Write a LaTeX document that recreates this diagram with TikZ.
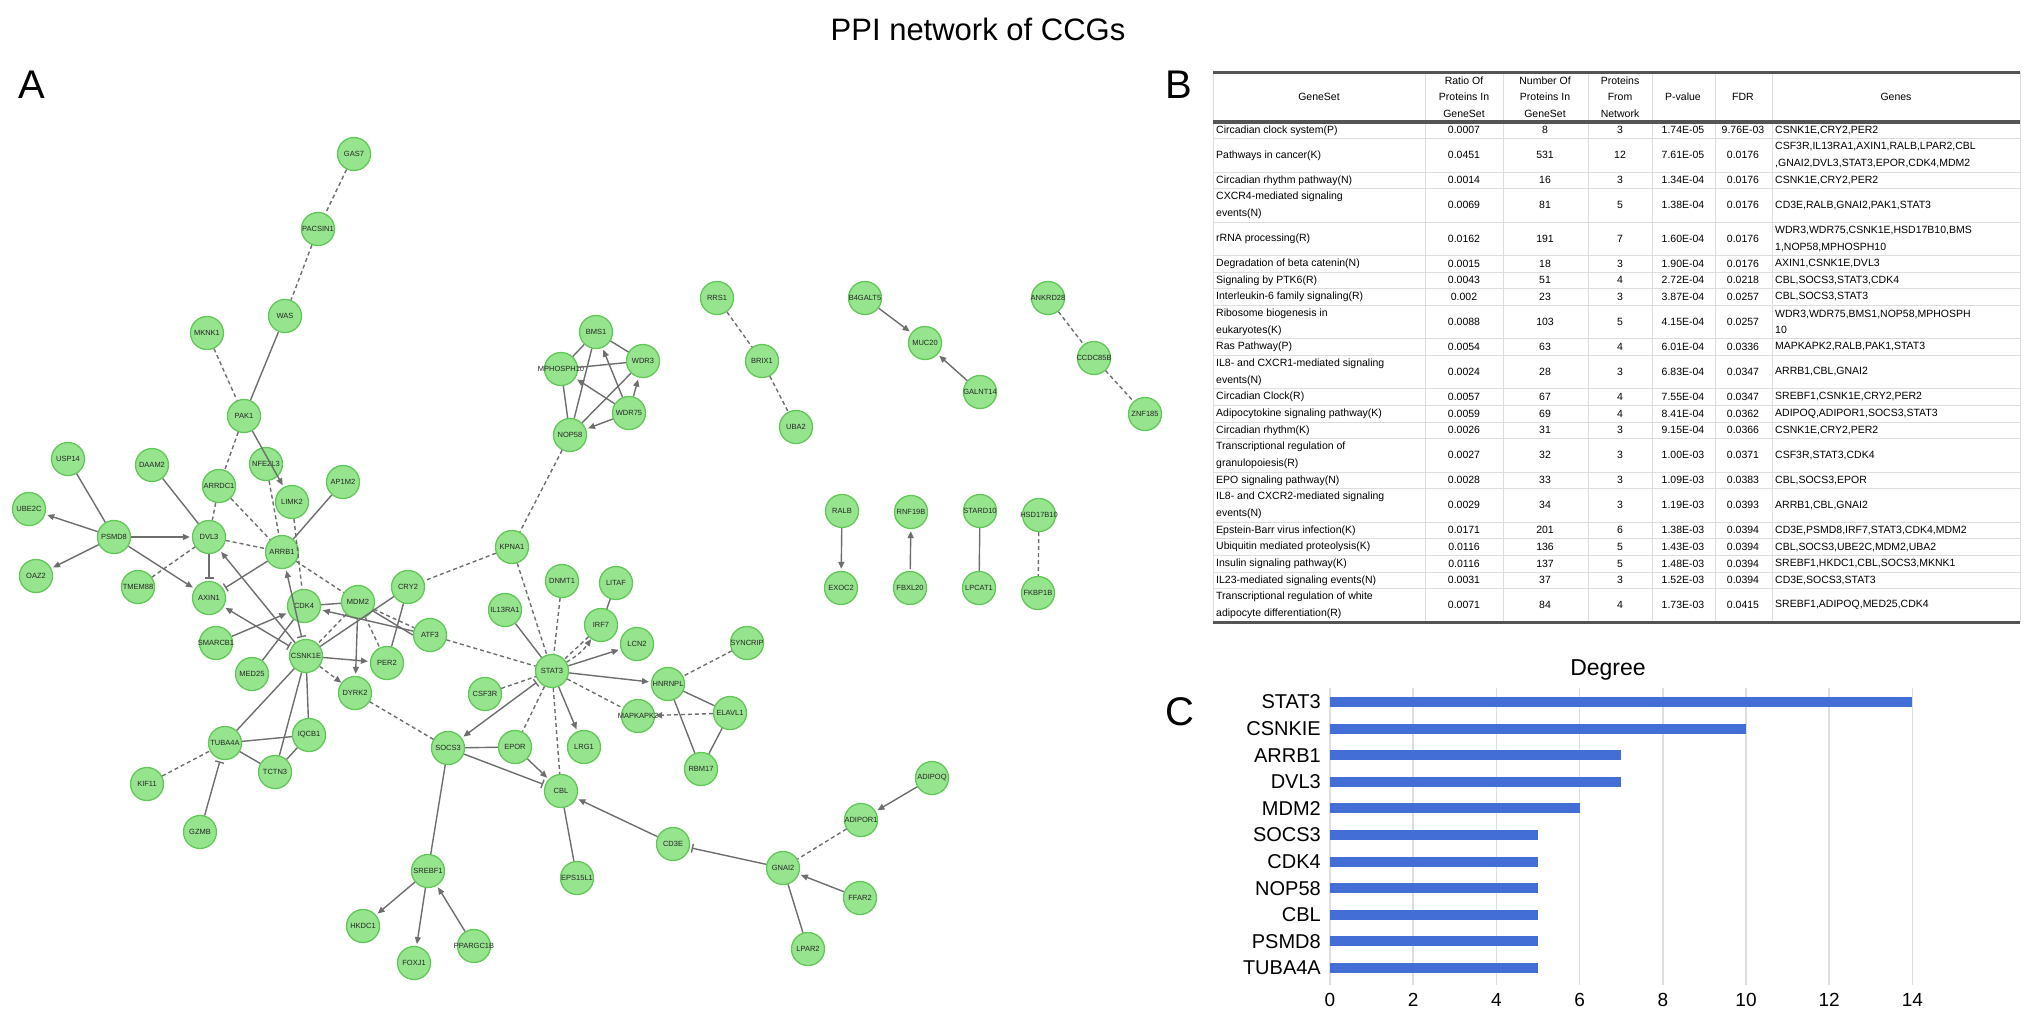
\documentclass[tikz,border=0pt]{standalone}
\usepackage{fontspec}
\setmainfont{Liberation Sans}
\usetikzlibrary{arrows.meta}

\definecolor{nodefill}{RGB}{150,228,142}
\definecolor{nodeedge}{RGB}{96,200,86}
\definecolor{edgegray}{RGB}{110,110,110}
\definecolor{barblue}{RGB}{66,110,214}
\definecolor{gridgray}{RGB}{222,222,222}
\definecolor{rulegray}{RGB}{85,85,85}

\tikzset{
  gene/.style={circle, draw=nodeedge, fill=nodefill, line width=1.3pt, minimum size=33pt,
    inner sep=0pt, label={[genelabel]center:#1}},
  genelabel/.style={font=\fontsize{7.5}{7.5}\selectfont, text=black!85, inner sep=0pt},
  link/.style={draw=edgegray, line width=1.4pt},
  pred/.style={link, dash pattern=on 4pt off 3pt},
  act/.style={link, -{Triangle[length=7pt,width=6pt]}, shorten >=2pt},
  inh/.style={link, -{Bar[width=9pt]}, shorten >=2pt},
  duo/.style={link, {Bar[width=9pt]}-{Triangle[length=7pt,width=6pt]}, shorten >=2pt, shorten <=2pt},
  panel/.style={font=\fontsize{40}{40}\selectfont},
  tabtext/.style={font=\fontsize{10.5}{16.7}\selectfont, inner sep=0pt},
  tabgrid/.style={draw=gridgray, line width=1pt},
  tabrule/.style={draw=rulegray, line width=3pt},
  barlabel/.style={font=\fontsize{20}{20}\selectfont, anchor=east, inner sep=0pt},
  ticklabel/.style={font=\fontsize{19}{19}\selectfont, inner sep=0pt},
}

\begin{document}
\begin{tikzpicture}[x=1pt, y=-1pt]
  \useasboundingbox (0,0) rectangle (2032,1017);

  % titles
  \node[font=\fontsize{31}{31}\selectfont] (title) at (978,29) {PPI network of CCGs};
  \node[panel] (pa) at (32,85) {A};
  \node[panel] (pb) at (1179,85) {B};
  \node[panel] (pc) at (1180,712) {C};

  % ---- A: network ----
  \node[gene=GAS7] (gas7) at (354,154) {};
  \node[gene=PACSIN1] (pacsin1) at (318,229) {};
  \node[gene=WAS] (was) at (285,316) {};
  \node[gene=MKNK1] (mknk1) at (207,333) {};
  \node[gene=PAK1] (pak1) at (244,416) {};
  \node[gene=USP14] (usp14) at (68,459) {};
  \node[gene=DAAM2] (daam2) at (152,465) {};
  \node[gene=NFE2L3] (nfe2l3) at (266,464) {};
  \node[gene=ARRDC1] (arrdc1) at (219,486) {};
  \node[gene=AP1M2] (ap1m2) at (343,482) {};
  \node[gene=LIMK2] (limk2) at (292,502) {};
  \node[gene=UBE2C] (ube2c) at (29,509) {};
  \node[gene=PSMD8] (psmd8) at (114,537) {};
  \node[gene=DVL3] (dvl3) at (209,537) {};
  \node[gene=ARRB1] (arrb1) at (282,552) {};
  \node[gene=OAZ2] (oaz2) at (36,576) {};
  \node[gene=TMEM88] (tmem88) at (138,587) {};
  \node[gene=AXIN1] (axin1) at (209,598) {};
  \node[gene=CDK4] (cdk4) at (304,606) {};
  \node[gene=MDM2] (mdm2) at (358,602) {};
  \node[gene=CRY2] (cry2) at (408,587) {};
  \node[gene=ATF3] (atf3) at (430,635) {};
  \node[gene=SMARCB1] (smarcb1) at (216,643) {};
  \node[gene=CSNK1E] (csnk1e) at (306,656) {};
  \node[gene=MED25] (med25) at (252,674) {};
  \node[gene=PER2] (per2) at (387,663) {};
  \node[gene=DYRK2] (dyrk2) at (355,693) {};
  \node[gene=CSF3R] (csf3r) at (485,694) {};
  \node[gene=TUBA4A] (tuba4a) at (225,743) {};
  \node[gene=IQCB1] (iqcb1) at (309,735) {};
  \node[gene=SOCS3] (socs3) at (448,748) {};
  \node[gene=TCTN3] (tctn3) at (275,772) {};
  \node[gene=KIF11] (kif11) at (147,784) {};
  \node[gene=GZMB] (gzmb) at (200,832) {};
  \node[gene=SREBF1] (srebf1) at (428,871) {};
  \node[gene=HKDC1] (hkdc1) at (363,926) {};
  \node[gene=FOXJ1] (foxj1) at (414,963) {};
  \node[gene=PPARGC1B] (ppargc1b) at (474,946) {};

  \node[gene=BMS1] (bms1) at (596,332) {};
  \node[gene=MPHOSPH10] (mphosph10) at (561,369) {};
  \node[gene=WDR3] (wdr3) at (643,361) {};
  \node[gene=WDR75] (wdr75) at (629,413) {};
  \node[gene=NOP58] (nop58) at (570,435) {};

  \node[gene=KPNA1] (kpna1) at (512,547) {};
  \node[gene=DNMT1] (dnmt1) at (562,581) {};
  \node[gene=LITAF] (litaf) at (616,583) {};
  \node[gene=IL13RA1] (il13ra1) at (505,610) {};
  \node[gene=IRF7] (irf7) at (601,625) {};
  \node[gene=LCN2] (lcn2) at (637,644) {};
  \node[gene=SYNCRIP] (syncrip) at (747,643) {};
  \node[gene=STAT3] (stat3) at (552,671) {};
  \node[gene=HNRNPL] (hnrnpl) at (668,684) {};
  \node[gene=MAPKAPK2] (mapkapk2) at (638,716) {};
  \node[gene=ELAVL1] (elavl1) at (730,713) {};
  \node[gene=EPOR] (epor) at (515,747) {};
  \node[gene=LRG1] (lrg1) at (584,747) {};
  \node[gene=RBM17] (rbm17) at (701,769) {};
  \node[gene=CBL] (cbl) at (561,791) {};
  \node[gene=EPS15L1] (eps15l1) at (577,878) {};
  \node[gene=CD3E] (cd3e) at (673,844) {};
  \node[gene=GNAI2] (gnai2) at (783,868) {};
  \node[gene=ADIPOR1] (adipor1) at (861,820) {};
  \node[gene=ADIPOQ] (adipoq) at (932,778) {};
  \node[gene=FFAR2] (ffar2) at (860,898) {};
  \node[gene=LPAR2] (lpar2) at (808,949) {};

  \node[gene=RRS1] (rrs1) at (717,298) {};
  \node[gene=BRIX1] (brix1) at (762,361) {};
  \node[gene=UBA2] (uba2) at (796,427) {};
  \node[gene=B4GALT5] (b4galt5) at (865,298) {};
  \node[gene=MUC20] (muc20) at (925,343) {};
  \node[gene=GALNT14] (galnt14) at (980,392) {};
  \node[gene=ANKRD28] (ankrd28) at (1048,298) {};
  \node[gene=CCDC85B] (ccdc85b) at (1094,358) {};
  \node[gene=ZNF185] (znf185) at (1145,414) {};
  \node[gene=RALB] (ralb) at (842,511) {};
  \node[gene=EXOC2] (exoc2) at (841,588) {};
  \node[gene=RNF19B] (rnf19b) at (911,512) {};
  \node[gene=FBXL20] (fbxl20) at (910,588) {};
  \node[gene=STARD10] (stard10) at (980,511) {};
  \node[gene=LPCAT1] (lpcat1) at (979,588) {};
  \node[gene=HSD17B10] (hsd17b10) at (1039,515) {};
  \node[gene=FKBP1B] (fkbp1b) at (1038,593) {};

  % edges
  \draw[pred] (gas7) -- (pacsin1);
  \draw[pred] (pacsin1) -- (was);
  \draw[link] (was) -- (pak1);
  \draw[pred] (mknk1) -- (pak1);
  \draw[pred] (pak1) -- (arrdc1);
  \draw[pred] (arrdc1) -- (dvl3);
  \draw[act] (pak1) -- (limk2);
  \draw[pred] (nfe2l3) -- (arrb1);
  \draw[pred] (limk2) -- (cdk4);
  \draw[link] (ap1m2) -- (arrb1);
  \draw[pred] (arrdc1) -- (arrb1);
  \draw[link] (daam2) -- (dvl3);
  \draw[link] (usp14) -- (psmd8);
  \draw[act] (psmd8) -- (ube2c);
  \draw[act] (psmd8) -- (oaz2);
  \draw[act] (psmd8) -- (dvl3);
  \draw[act] (psmd8) -- (axin1);
  \draw[pred] (tmem88) -- (dvl3);
  \draw[inh] (dvl3) -- (axin1);
  \draw[pred] (dvl3) -- (arrb1);
  \draw[inh] (arrb1) -- (axin1);
  \draw[act] (csnk1e) -- (dvl3);
  \draw[duo] (csnk1e) -- (axin1);
  \draw[duo] (csnk1e) -- (arrb1);
  \draw[pred] (arrb1) -- (mdm2);
  \draw[pred] (mdm2) -- (atf3);
  \draw[act] (smarcb1) -- (cdk4);
  \draw[link] (med25) -- (cdk4);
  \draw[link] (cdk4) -- (mdm2);
  \draw[act] (atf3) -- (cdk4);
  \draw[link] (mdm2) -- (atf3.west);
  \draw[link] (cry2) -- (csnk1e);
  \draw[link] (cry2) -- (per2);
  \draw[act] (mdm2) -- (dyrk2);
  \draw[pred] (mdm2) -- (per2);
  \draw[pred] (mdm2) -- (csnk1e);
  \draw[act] (csnk1e) -- (per2);
  \draw[pred, -{Triangle[length=7pt,width=6pt]}] (csnk1e) -- (dyrk2);
  \draw[pred] (dyrk2) -- (socs3);
  \draw[link] (csnk1e) -- (tuba4a);
  \draw[link] (csnk1e) -- (iqcb1);
  \draw[link] (csnk1e) -- (tctn3);
  \draw[link] (tuba4a) -- (iqcb1);
  \draw[link] (tuba4a) -- (tctn3);
  \draw[link] (tctn3) -- (iqcb1);
  \draw[pred] (kif11) -- (tuba4a);
  \draw[inh] (gzmb) -- (tuba4a);

  \draw[link] (bms1) -- (mphosph10);
  \draw[link] (bms1) -- (wdr3);
  \draw[link] (bms1) -- (nop58);
  \draw[link] (mphosph10) -- (wdr3);
  \draw[link] (mphosph10) -- (nop58);
  \draw[link] (wdr3) -- (nop58);
  \draw[act] (wdr75) -- (nop58);
  \draw[act] (wdr75) -- (wdr3);
  \draw[act] (wdr75) -- (bms1);
  \draw[act] (wdr75) -- (mphosph10);

  \draw[pred] (nop58) -- (kpna1);
  \draw[pred] (kpna1) -- (cry2);
  \draw[pred] (kpna1) -- (stat3);
  \draw[pred] (dnmt1) -- (stat3);
  \draw[link] (litaf) -- (irf7);
  \draw[pred] (irf7) -- (stat3);
  \draw[pred, -{Triangle[length=7pt,width=6pt]}] (stat3) to[bend right=12] (irf7);
  \draw[link] (il13ra1) -- (stat3);
  \draw[pred] (atf3) -- (stat3);
  \draw[act] (stat3) -- (lcn2);
  \draw[act] (stat3) -- (hnrnpl);
  \draw[pred] (stat3) -- (mapkapk2);
  \draw[act] (stat3) -- (lrg1);
  \draw[pred] (stat3) -- (cbl);
  \draw[pred] (stat3) -- (epor);
  \draw[pred] (csf3r) -- (stat3);
  \draw[duo] (stat3) -- (socs3);
  \draw[pred] (syncrip) -- (hnrnpl);
  \draw[link] (hnrnpl) -- (elavl1);
  \draw[link] (hnrnpl) -- (rbm17);
  \draw[link] (elavl1) -- (rbm17);
  \draw[pred, -{Triangle[length=7pt,width=6pt]}] (elavl1) -- (mapkapk2);
  \draw[link] (socs3) -- (epor);
  \draw[inh] (socs3) -- (cbl);
  \draw[act] (epor) -- (cbl);
  \draw[link] (socs3) -- (srebf1);
  \draw[link] (cbl) -- (eps15l1);
  \draw[act] (cd3e) -- (cbl);
  \draw[inh] (gnai2) -- (cd3e);
  \draw[pred] (adipor1) -- (gnai2);
  \draw[act] (adipoq) -- (adipor1);
  \draw[act] (ffar2) -- (gnai2);
  \draw[link] (gnai2) -- (lpar2);
  \draw[act] (srebf1) -- (hkdc1);
  \draw[act] (srebf1) -- (foxj1);
  \draw[act] (ppargc1b) -- (srebf1);

  \draw[pred] (rrs1) -- (brix1);
  \draw[pred] (brix1) -- (uba2);
  \draw[act] (b4galt5) -- (muc20);
  \draw[act] (galnt14) -- (muc20);
  \draw[pred] (ankrd28) -- (ccdc85b);
  \draw[pred] (ccdc85b) -- (znf185);
  \draw[act] (ralb) -- (exoc2);
  \draw[act, {Triangle[length=7pt,width=6pt]}-, shorten <=2pt] (rnf19b) -- (fbxl20);
  \draw[link] (stard10) -- (lpcat1);
  \draw[pred] (hsd17b10) -- (fkbp1b);

  % ---- B: table ----
  \foreach \cx in {1213,1425,1503,1588,1652,1715,1772,2020}
    \draw[tabgrid] (\cx,72) -- (\cx,622);
  \foreach \ry in {138.7,172,188.7,222,255.3,272,288.7,305.3,338.7,355.3,388.7,405.3,422,438.7,472,488.7,522,538.7,555.3,572,588.7}
    \draw[tabgrid] (1213,\ry) -- (2020,\ry);
  \draw[tabrule] (1213,72) -- (2020,72);
  \draw[tabrule, line width=4pt] (1213,122) -- (2020,122);
  \draw[tabrule] (1213,622) -- (2020,622);

  \node[tabtext] (h1) at (1319,97) {GeneSet};
  \node[tabtext, align=center] (h2) at (1464,97) {Ratio Of\\Proteins In\\GeneSet};
  \node[tabtext, align=center] (h3) at (1545,97) {Number Of\\Proteins In\\GeneSet};
  \node[tabtext, align=center] (h4) at (1620,97) {Proteins\\From\\Network};
  \node[tabtext] (h5) at (1683,97) {P-value};
  \node[tabtext] (h6) at (1743,97) {FDR};
  \node[tabtext] (h7) at (1896,97) {Genes};

  \foreach \ry/\gs/\ra/\nu/\pr/\pv/\fdr/\gn [count=\i] in {
    130.3/{Circadian clock system(P)}/0.0007/8/3/1.74E-05/9.76E-03/{CSNK1E,CRY2,PER2},
    155.3/{Pathways in cancer(K)}/0.0451/531/12/7.61E-05/0.0176/{CSF3R,IL13RA1,AXIN1,RALB,LPAR2,CBL\\,GNAI2,DVL3,STAT3,EPOR,CDK4,MDM2},
    180.3/{Circadian rhythm pathway(N)}/0.0014/16/3/1.34E-04/0.0176/{CSNK1E,CRY2,PER2},
    205.3/{CXCR4-mediated signaling\\events(N)}/0.0069/81/5/1.38E-04/0.0176/{CD3E,RALB,GNAI2,PAK1,STAT3},
    238.7/{rRNA processing(R)}/0.0162/191/7/1.60E-04/0.0176/{WDR3,WDR75,CSNK1E,HSD17B10,BMS\\1,NOP58,MPHOSPH10},
    263.7/{Degradation of beta catenin(N)}/0.0015/18/3/1.90E-04/0.0176/{AXIN1,CSNK1E,DVL3},
    280.3/{Signaling by PTK6(R)}/0.0043/51/4/2.72E-04/0.0218/{CBL,SOCS3,STAT3,CDK4},
    297/{Interleukin-6 family signaling(R)}/0.002/23/3/3.87E-04/0.0257/{CBL,SOCS3,STAT3},
    322/{Ribosome biogenesis in\\eukaryotes(K)}/0.0088/103/5/4.15E-04/0.0257/{WDR3,WDR75,BMS1,NOP58,MPHOSPH\\10},
    347/{Ras Pathway(P)}/0.0054/63/4/6.01E-04/0.0336/{MAPKAPK2,RALB,PAK1,STAT3},
    372/{IL8- and CXCR1-mediated signaling\\events(N)}/0.0024/28/3/6.83E-04/0.0347/{ARRB1,CBL,GNAI2},
    397/{Circadian Clock(R)}/0.0057/67/4/7.55E-04/0.0347/{SREBF1,CSNK1E,CRY2,PER2},
    413.7/{Adipocytokine signaling pathway(K)}/0.0059/69/4/8.41E-04/0.0362/{ADIPOQ,ADIPOR1,SOCS3,STAT3},
    430.3/{Circadian rhythm(K)}/0.0026/31/3/9.15E-04/0.0366/{CSNK1E,CRY2,PER2},
    455.3/{Transcriptional regulation of\\granulopoiesis(R)}/0.0027/32/3/1.00E-03/0.0371/{CSF3R,STAT3,CDK4},
    480.3/{EPO signaling pathway(N)}/0.0028/33/3/1.09E-03/0.0383/{CBL,SOCS3,EPOR},
    505.3/{IL8- and CXCR2-mediated signaling\\events(N)}/0.0029/34/3/1.19E-03/0.0393/{ARRB1,CBL,GNAI2},
    530.3/{Epstein-Barr virus infection(K)}/0.0171/201/6/1.38E-03/0.0394/{CD3E,PSMD8,IRF7,STAT3,CDK4,MDM2},
    547/{Ubiquitin mediated proteolysis(K)}/0.0116/136/5/1.43E-03/0.0394/{CBL,SOCS3,UBE2C,MDM2,UBA2},
    563.7/{Insulin signaling pathway(K)}/0.0116/137/5/1.48E-03/0.0394/{SREBF1,HKDC1,CBL,SOCS3,MKNK1},
    580.3/{IL23-mediated signaling events(N)}/0.0031/37/3/1.52E-03/0.0394/{CD3E,SOCS3,STAT3},
    605.3/{Transcriptional regulation of white\\adipocyte differentiation(R)}/0.0071/84/4/1.73E-03/0.0415/{SREBF1,ADIPOQ,MED25,CDK4}}
  {
    \node[tabtext, anchor=west, align=left] (gs\i) at (1216,\ry) {\gs};
    \node[tabtext] (ra\i) at (1464,\ry) {\ra};
    \node[tabtext] (nu\i) at (1545,\ry) {\nu};
    \node[tabtext] (pr\i) at (1620,\ry) {\pr};
    \node[tabtext] (pv\i) at (1683,\ry) {\pv};
    \node[tabtext] (fdr\i) at (1743,\ry) {\fdr};
    \node[tabtext, anchor=west, align=left] (gn\i) at (1775,\ry) {\gn};
  }

  % ---- C: degree bars ----
  \node[font=\fontsize{23}{23}\selectfont] (degtitle) at (1608,670) {Degree};
  \foreach \k in {0,...,7} {
    \draw[gridgray, line width=1.5pt] ({1330+83.2*\k},688) -- ({1330+83.2*\k},985);
    \node[ticklabel] (tick\k) at ({1330+83.2*\k},1000) {\pgfmathparse{int(2*\k)}\pgfmathresult};
  }
  \foreach \g/\v [count=\i] in {STAT3/14,CSNKIE/10,ARRB1/7,DVL3/7,MDM2/6,SOCS3/5,CDK4/5,NOP58/5,CBL/5,PSMD8/5,TUBA4A/5} {
    \fill[barblue] (1330,{702+26.6*(\i-1)-5}) rectangle ++({41.6*\v},10);
    \node[barlabel] (bar\i) at (1321,{702+26.6*(\i-1)}) {\g};
  }
\end{tikzpicture}
\end{document}
